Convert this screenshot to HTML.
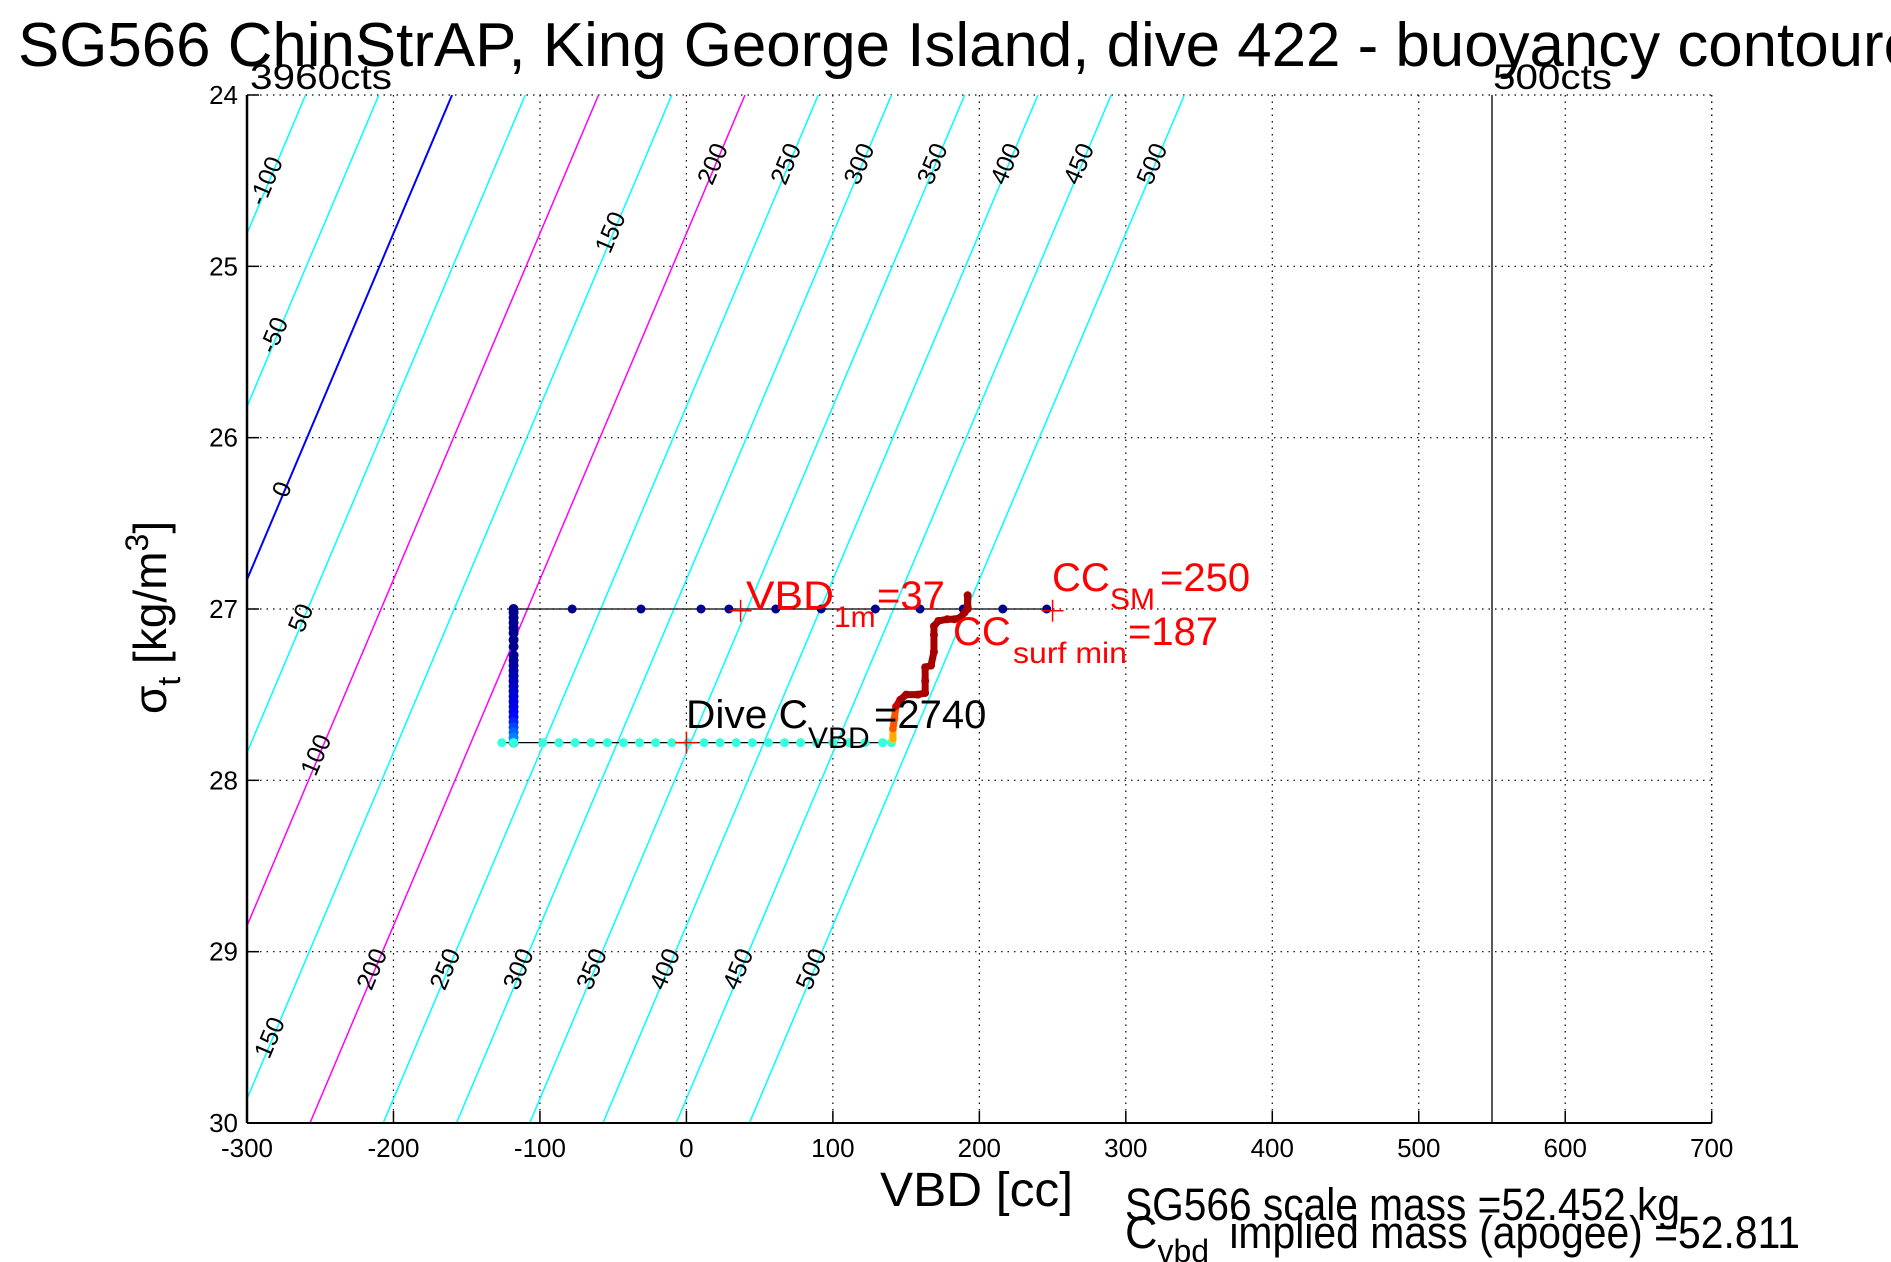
<!DOCTYPE html>
<html><head><meta charset="utf-8"><style>
html,body{margin:0;padding:0;background:#fff;}
svg{display:block;font-family:"Liberation Sans",sans-serif;}
</style></head><body>
<svg id="chart" width="1891" height="1262" viewBox="0 0 1891 1262" xmlns="http://www.w3.org/2000/svg">
<defs><clipPath id="plotclip"><rect x="247" y="95" width="1465" height="1028"/></clipPath></defs>
<rect width="1891" height="1262" fill="#fff"/>
<text x="18" y="66" font-size="62" textLength="1900" lengthAdjust="spacingAndGlyphs">SG566 ChinStrAP, King George Island, dive 422 - buoyancy contoure</text>
<g id="grid"></g>
<g id="contours" clip-path="url(#plotclip)"></g>
<g id="clabels"></g>
<g id="series"></g>
<g id="axes"></g>
<text x="250" y="89" font-size="35" textLength="142" lengthAdjust="spacingAndGlyphs">3960cts</text>
<text x="1493" y="89" font-size="35" textLength="119" lengthAdjust="spacingAndGlyphs">500cts</text>
<text x="880" y="1206" font-size="48" textLength="193" lengthAdjust="spacingAndGlyphs">VBD [cc]</text>
<g transform="translate(166,714) rotate(-90)">
<text x="0" y="0" font-size="46">σ<tspan font-size="32" dy="14">t</tspan><tspan dy="-14"> [kg/m</tspan><tspan font-size="32" dy="-18">3</tspan><tspan dy="18">]</tspan></text>
</g>
<text fill="#ff0000" font-size="40" x="746" y="609"><tspan textLength="88" lengthAdjust="spacingAndGlyphs">VBD</tspan><tspan font-size="30" dy="18" x="834">1m</tspan><tspan dy="-18" x="877">=37</tspan></text>
<text fill="#ff0000" font-size="40" x="1052" y="591"><tspan>CC</tspan><tspan font-size="30" dy="18" x="1110">SM</tspan><tspan dy="-18" x="1160">=250</tspan></text>
<text fill="#ff0000" font-size="40" x="953" y="645"><tspan>CC</tspan><tspan font-size="30" dy="18" x="1013" textLength="114" lengthAdjust="spacingAndGlyphs">surf min</tspan><tspan dy="-18" x="1128">=187</tspan></text>
<text fill="#000" font-size="40" x="686" y="728"><tspan textLength="122" lengthAdjust="spacingAndGlyphs">Dive C</tspan><tspan font-size="30" dy="20" x="808">VBD</tspan><tspan dy="-20" x="874">=2740</tspan></text>
<text x="1125" y="1220" font-size="45" textLength="555" lengthAdjust="spacingAndGlyphs">SG566 scale mass =52.452 kg</text>
<text x="1125" y="1248" font-size="45">C<tspan font-size="32" dy="14">vbd</tspan><tspan dy="-14" x="1218" textLength="582" lengthAdjust="spacingAndGlyphs"> implied mass (apogee) =52.811</tspan></text>
</svg>
<script>
// ---- data ----
const xTicks = [-300,-200,-100,0,100,200,300,400,500,600,700];
const yTicks = [24,25,26,27,28,29,30];
const contourLevels = [-100,-50,0,50,100,150,200,250,300,350,400,450,500];
const labelLevels = [-100,-50,0,50,100,150,150,200,250,300,350,400,450,500,200,250,300,350,400,450,500];
const labelSigmas = [24.5,25.4,26.3,27.05,27.85,29.5,24.8,24.4,24.4,24.4,24.4,24.4,24.4,24.4,29.1,29.1,29.1,29.1,29.1,29.1,29.1];
const descentVBD = [246,216,189,159.5,129,92,61,29,10,-31,-78];
const descentSigma = [27.0,27.0,27.0,27.0,27.0,27.0,27.0,27.0,27.0,27.0,27.0];
const verticalSigma = [27.0,27.02,27.05,27.08,27.11,27.14,27.18,27.22,27.27,27.3,27.33,27.36,27.39,27.42,27.45,27.48,27.51,27.54,27.57,27.6,27.63,27.66,27.69,27.72,27.75,27.78];
const verticalVBD = -118;
const bottomVBD = [-126,-118,-98,-87,-76,-65,-54,-43,-32,-21,-10,1,12,23,34,45,56,67,78,89,100,111,122,134,140];
const bottomSigma = 27.78;
const climbVBD = [141,141,142,143,146,150,158,163,163,163,167,169,169,169,172,178,183,187,190,192,192,192];
const climbSigma = [27.76,27.7,27.64,27.57,27.53,27.5,27.5,27.49,27.42,27.34,27.33,27.25,27.15,27.1,27.07,27.06,27.06,27.05,27.02,26.99,26.92,27.0];
const markVBD = [37,250,0];
const markSigma = [27.01,27.01,27.78];
const vbdLine = 550;
// ---- scales ----
const X0=247, X1=1711.7, Y0=95, Y1=1123;
const xs = v => X0 + (v+300)/1000*(X1-X0);
const ys = s => Y0 + (s-24)/6*(Y1-Y0);
const contourVBD = (c,s) => c - 160 - 49.5*(s-24);
const NS='http://www.w3.org/2000/svg';
function mk(tag, parent, attrs){const e=document.createElementNS(NS,tag);for(const k in attrs)e.setAttribute(k,attrs[k]);parent.appendChild(e);return e;}
const grid=document.getElementById('grid'), axes=document.getElementById('axes');
for(const t of xTicks){
  if(t>-300){const g=mk('line',grid,{x1:xs(t),x2:xs(t),y1:Y0,y2:Y1,stroke:'#000','stroke-width':1.2,'stroke-dasharray':'1.5,5'});
  
  }
  const tk=mk('line',axes,{x1:xs(t),x2:xs(t),y1:Y1,y2:Y1-12,stroke:'#000','stroke-width':1.5});
  
  
  const tl=mk('text',axes,{x:xs(t),y:1157,'font-size':26,'text-anchor':'middle'});tl.textContent=t;
  
  
}
for(const t of yTicks){
  if(t>24&&t<30){const g=mk('line',grid,{x1:X0,x2:X1,y1:ys(t),y2:ys(t),stroke:'#000','stroke-width':1.2,'stroke-dasharray':'1.5,5'});
  
  }
  const tk=mk('line',axes,{x1:X0,x2:X0+12,y1:ys(t),y2:ys(t),stroke:'#000','stroke-width':1.5});
  
  
  const tl=mk('text',axes,{x:238,y:ys(t)+9,'font-size':26,'text-anchor':'end'});tl.textContent=t;
  
  
}
mk('line',grid,{x1:X0,x2:X1,y1:Y0,y2:Y0,stroke:'#000','stroke-width':1.2,'stroke-dasharray':'1.5,5'});
mk('line',grid,{x1:X1,x2:X1,y1:Y0,y2:Y1,stroke:'#000','stroke-width':1.2,'stroke-dasharray':'1.5,5'});
mk('line',axes,{x1:X0,x2:X0,y1:Y0,y2:Y1,stroke:'#000','stroke-width':2.5});
mk('line',axes,{x1:X0,x2:X1,y1:Y1,y2:Y1,stroke:'#000','stroke-width':2});
const vl=mk('line',axes,{x1:xs(vbdLine),x2:xs(vbdLine),y1:Y0,y2:Y1,stroke:'#000','stroke-width':1.3});


// contours
const cg=document.getElementById('contours');
for(const c of contourLevels){
  const col = c===0?'#0000ff':(c===100||c===200)?'#ff00ff':'#00ffff';
  const l=mk('line',cg,{x1:xs(contourVBD(c,24)),y1:ys(24),x2:xs(contourVBD(c,30)),y2:ys(30),stroke:col,'stroke-width':c===0?2:1.5});
  
  
}
const lg=document.getElementById('clabels');
labelLevels.forEach((c,i)=>{
  const s=labelSigmas[i], x=xs(contourVBD(c,s))-4, y=ys(s);
  const t=mk('text',lg,{x:0,y:0,'font-size':25,'text-anchor':'middle',transform:`translate(${x},${y}) rotate(-67) translate(0,9)`});
  t.textContent=c;
  
  
});
// series
const sg=document.getElementById('series');
mk('polyline',sg,{points:descentVBD.map((v,i)=>xs(v)+','+ys(descentSigma[i])).join(' ')+' '+xs(verticalVBD)+','+ys(27.0),fill:'none',stroke:'#000','stroke-width':1.3});
mk('line',sg,{x1:xs(bottomVBD[0]),x2:xs(bottomVBD[bottomVBD.length-1]),y1:ys(bottomSigma),y2:ys(bottomSigma),stroke:'#000','stroke-width':1.3});
descentVBD.forEach((v,i)=>{const d=mk('circle',sg,{cx:xs(v),cy:ys(descentSigma[i]),r:4.5,fill:'#00008f'});
  
  });
verticalSigma.forEach((s,i)=>{const f=(s-27)/0.78;
  const col = f<0.35?'#00008f':f<0.8?`rgb(0,0,${Math.round(143+112*(f-0.35)/0.45)})`:`rgb(0,${Math.round(160*(f-0.8)/0.2)},255)`;
  const d=mk('circle',sg,{cx:xs(verticalVBD),cy:ys(s),r:5,fill:col});
  
  });
bottomVBD.forEach(v=>{const d=mk('circle',sg,{cx:xs(v),cy:ys(bottomSigma),r:4.5,fill:'#33ffdd'});
  
  });
climbVBD.forEach((v,i)=>{const s=climbSigma[i];
  const col = s>27.72?'#ffff00':s>27.66?'#ffaa00':s>27.56?'#ff5500':s>27.5?'#cc0000':'#a80000';
  if(i>0){mk('line',sg,{x1:xs(climbVBD[i-1]),y1:ys(climbSigma[i-1]),x2:xs(v),y2:ys(s),stroke:col,'stroke-width':7,'stroke-linecap':'round'});}
  const d=mk('circle',sg,{cx:xs(v),cy:ys(s),r:4,fill:col});
  
  });
markVBD.forEach((v,i)=>{const x=xs(v),y=ys(markSigma[i]);
  const p=mk('path',sg,{d:`M${x-11},${y}H${x+11}M${x},${y-11}V${y+11}`,stroke:'#ff0000','stroke-width':1.5});
  
  });
</script>
</body></html>
